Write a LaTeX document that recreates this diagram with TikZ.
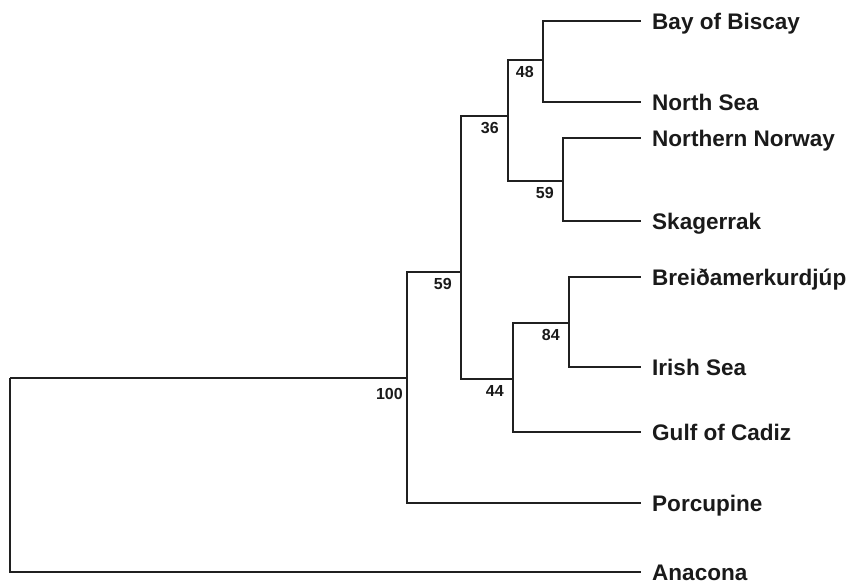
\documentclass[tikz,border=0pt]{standalone}
\usepackage{fontspec}
\setmainfont{Liberation Sans}
\usepackage{tikz}
\definecolor{treeline}{HTML}{202020}
\definecolor{treetext}{HTML}{1A1A1A}

\begin{document}
\begin{tikzpicture}[x=0.75pt,y=-0.75pt,
  branch/.style={draw=treeline,line width=1pt},
  leaflabel/.style={anchor=base west,inner sep=0pt,xshift=8.2pt,yshift=-6pt,
    text=treetext,font=\fontsize{16.9}{20}\selectfont\bfseries},
  support/.style={anchor=base east,inner sep=0pt,xshift=-6.8pt,yshift=-13pt,
    text=treetext,font=\fontsize{12}{14}\selectfont\bfseries}]
  \useasboundingbox (0,0) rectangle (851,586);
  % internal nodes
  \coordinate (root) at (10,378);
  \coordinate (n100) at (407,378);
  \coordinate (n59b) at (461,272);
  \coordinate (n36)  at (508,116);
  \coordinate (n48)  at (543,60);
  \coordinate (n59a) at (563,181);
  \coordinate (n44)  at (513,379);
  \coordinate (n84)  at (569,323);
  % leaves
  \coordinate (biscay)  at (641,21);
  \coordinate (north)   at (641,102);
  \coordinate (norway)  at (641,138);
  \coordinate (skag)    at (641,221);
  \coordinate (breid)   at (641,277);
  \coordinate (irish)   at (641,367);
  \coordinate (cadiz)   at (641,432);
  \coordinate (porc)    at (641,503);
  \coordinate (anacona) at (641,572);
  % branches
  \draw[branch] (root) -- (n100);
  \draw[branch] (root) |- (anacona);
  \draw[branch] (n100) |- (n59b);
  \draw[branch] (n100) |- (porc);
  \draw[branch] (n59b) |- (n36);
  \draw[branch] (n59b) |- (n44);
  \draw[branch] (n36) |- (n48);
  \draw[branch] (n36) |- (n59a);
  \draw[branch] (n48) |- (biscay);
  \draw[branch] (n48) |- (north);
  \draw[branch] (n59a) |- (norway);
  \draw[branch] (n59a) |- (skag);
  \draw[branch] (n44) |- (n84);
  \draw[branch] (n44) |- (cadiz);
  \draw[branch] (n84) |- (breid);
  \draw[branch] (n84) |- (irish);
  % bootstrap values
  \node[support,xshift=3.8pt,yshift=-3pt] (s100) at (n100) {100};
  \node[support] (s59b) at (n59b) {59};
  \node[support] (s36)  at (n36)  {36};
  \node[support] (s48)  at (n48)  {48};
  \node[support] (s59a) at (n59a) {59};
  \node[support] (s44)  at (n44)  {44};
  \node[support] (s84)  at (n84)  {84};
  % tip labels
  \node[leaflabel] (tbiscay)  at (biscay)  {Bay of Biscay};
  \node[leaflabel] (tnorth)   at (north)   {North Sea};
  \node[leaflabel] (tnorway)  at (norway)  {Northern Norway};
  \node[leaflabel] (tskag)    at (skag)    {Skagerrak};
  \node[leaflabel] (tbreid)   at (breid)   {Breiðamerkurdjúp};
  \node[leaflabel] (tirish)   at (irish)   {Irish Sea};
  \node[leaflabel] (tcadiz)   at (cadiz)   {Gulf of Cadiz};
  \node[leaflabel] (tporc)    at (porc)    {Porcupine};
  \node[leaflabel] (tanacona) at (anacona) {Anacona};
\end{tikzpicture}
\end{document}
